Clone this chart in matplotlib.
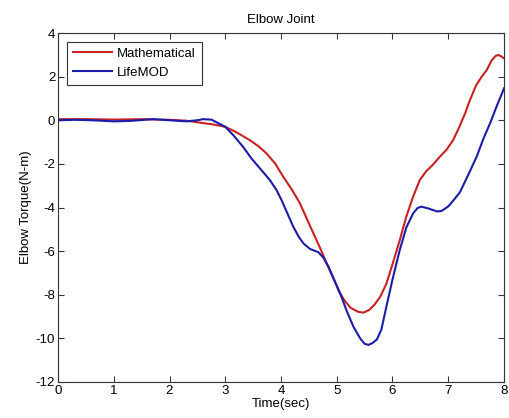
import matplotlib
matplotlib.use("Agg")
import matplotlib.pyplot as plt

plt.rcParams["font.family"] = ["Liberation Sans", "DejaVu Sans"]
plt.rcParams["font.size"] = 9.5
plt.rcParams["axes.unicode_minus"] = False

# data
t_math = [0.0, 0.5, 1.0, 1.5, 2.0, 2.3, 2.55, 2.8, 3.0, 3.2, 3.44, 3.6, 3.74, 3.9,
          4.04, 4.2, 4.34, 4.46, 4.58, 4.7, 4.82, 4.95, 5.05, 5.15, 5.25, 5.38,
          5.48, 5.58, 5.68, 5.78, 5.89, 6.0, 6.13, 6.25, 6.37, 6.49, 6.6, 6.72,
          6.85, 6.97, 7.09, 7.2, 7.3, 7.39, 7.5, 7.6, 7.69, 7.78, 7.85, 7.9,
          7.95, 8.0]
torque_math = [0.05, 0.05, 0.03, 0.05, 0.02, -0.02, -0.11, -0.2, -0.3, -0.55,
               -0.91, -1.2, -1.52, -2.0, -2.59, -3.2, -3.81, -4.5, -5.18, -5.85,
               -6.56, -7.3, -7.9, -8.3, -8.6, -8.78, -8.82, -8.7, -8.45, -8.09,
               -7.5, -6.6, -5.5, -4.4, -3.5, -2.74, -2.35, -2.05, -1.67, -1.35,
               -0.9, -0.3, 0.3, 0.93, 1.6, 2.0, 2.3, 2.75, 2.95, 2.99, 2.93, 2.84]

t_life = [0.0, 0.3, 0.6, 1.0, 1.3, 1.7, 2.0, 2.3, 2.5, 2.6, 2.75, 2.85, 3.0,
          3.15, 3.32, 3.47, 3.62, 3.8, 3.92, 4.01, 4.12, 4.22, 4.32, 4.4, 4.52,
          4.67, 4.76, 4.85, 4.95, 5.06, 5.18, 5.3, 5.42, 5.5, 5.57, 5.65, 5.72,
          5.8, 5.89, 6.0, 6.13, 6.25, 6.37, 6.45, 6.52, 6.65, 6.8, 6.88, 7.0,
          7.1, 7.21, 7.35, 7.51, 7.63, 7.75, 7.87, 8.0]
torque_life = [0.0, 0.02, 0.0, -0.05, -0.03, 0.05, 0.0, -0.05, 0.0, 0.05, 0.03,
               -0.1, -0.3, -0.7, -1.22, -1.75, -2.2, -2.74, -3.2, -3.66, -4.3,
               -4.88, -5.35, -5.64, -5.9, -6.05, -6.3, -6.71, -7.3, -7.93, -8.75,
               -9.47, -10.0, -10.25, -10.3, -10.2, -10.05, -9.6, -8.55, -7.3,
               -5.95, -4.9, -4.27, -4.02, -3.96, -4.05, -4.18, -4.16, -3.95,
               -3.65, -3.3, -2.55, -1.67, -0.85, -0.14, 0.65, 1.46]

fig = plt.figure(figsize=(5.09, 4.18), dpi=100)
ax = fig.add_axes([58 / 509, 1 - 382 / 418, 446 / 509, 349 / 418])

ax.plot(t_math, torque_math, color="#c82224", linewidth=1.5, label="Mathematical")
ax.plot(t_life, torque_life, color="#1c1caa", linewidth=1.5, label="LifeMOD")

ax.set_xlim(0, 8)
ax.set_ylim(-12, 4)
ax.set_xticks(range(0, 9))
ax.set_yticks(range(-12, 5, 2))
ax.tick_params(direction="in", top=True, right=True, length=4, width=0.8,
               color="#333333", labelsize=9.5, pad=2)
for s in ax.spines.values():
    s.set_color("#333333")
    s.set_linewidth(0.8)

ax.set_title("Elbow Joint", fontsize=9.5, pad=7)
ax.set_xlabel("Time(sec)", fontsize=9.5, labelpad=1)
ax.set_ylabel("Elbow Torque(N-m)", fontsize=9.5, labelpad=3)

leg = ax.legend(loc="upper left", fancybox=False, framealpha=1, edgecolor="#333333",
                fontsize=9.5, handlelength=3.0, borderaxespad=0.65, labelspacing=0.5,
                handletextpad=0.4, borderpad=0.45)
leg.get_frame().set_linewidth(0.8)

fig.savefig("out.png", dpi=100)
